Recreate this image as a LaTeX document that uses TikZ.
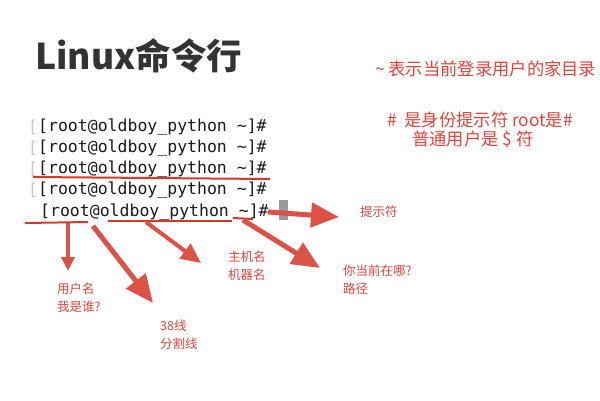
\documentclass[tikz,border=0pt]{standalone}
\usepackage{fontspec}
\setmainfont{Noto Sans CJK SC}
\setmonofont{DejaVu Sans Mono}
\usepackage{xcolor}
\definecolor{cTitle}{HTML}{333333}
\definecolor{cRed}{HTML}{E2433A}
\definecolor{cArrow}{HTML}{DC5247}
\definecolor{cLine}{HTML}{D5382C}
\definecolor{cTerm}{HTML}{1A1A1A}
\definecolor{cFaint}{HTML}{C8C8C8}
\definecolor{cCursor}{HTML}{9A9A9A}
\usepackage{tikz}
\usetikzlibrary{positioning,arrows.meta}
\newcommand{\rootprompt}{[root@oldboy\_python \textasciitilde]\#}
\tikzset{
  node-title/.style={anchor=west,inner sep=0pt,text=cTitle,
    font=\fontsize{35.5}{40}\selectfont\bfseries},
  node-note/.style={anchor=west,inner sep=0pt,text=cRed,align=left,
    font=\fontsize{17.3}{20}\selectfont},
  node-tag/.style={anchor=north west,inner sep=0pt,text=cRed,align=left,
    font=\fontsize{12.5}{18}\selectfont},
  node-term/.style={anchor=west,inner sep=0pt,text=cTerm,
    font=\ttfamily\fontsize{16.5}{20}\selectfont},
  node-cursor/.style={fill=cCursor,inner sep=0pt,minimum width=9pt,minimum height=20pt},
  underline/.style={draw=cLine,line width=2pt},
  arrow-big/.style={-{Triangle[length=28pt,width=24pt]},line width=5pt,draw=cArrow},
  arrow-mid/.style={-{Triangle[length=20pt,width=18pt]},line width=4pt,draw=cArrow},
  arrow-small/.style={-{Triangle[length=14pt,width=13pt]},line width=3.5pt,draw=cArrow},
}

\begin{document}
\begin{tikzpicture}[x=1pt,y=-1pt]
  \useasboundingbox[fill=white] (0,0) rectangle (600,400);
  % 标题与右侧说明
  \node[node-title] (title) at (35,56) {Linux命令行};
  \node[node-note]  (home)  at (375,69) {\textasciitilde\ 表示当前登录用户的家目录};
  \node[node-note]  (hash)  at (387,120) {\#\ \ 是身份提示符 root是\#};
  \node[node-note]  (user)  at (412,139) {普通用户是 \$ 符};
  % 终端提示行
  \node[node-term,text=cFaint] (g1) at (28,127) {[};
  \node[node-term,text=cFaint] (g2) at (28,148) {[};
  \node[node-term,text=cFaint] (g3) at (28,169) {[};
  \node[node-term,text=cFaint] (g4) at (28,190) {[};
  \node[node-term] (l1) at (38,127) {\rootprompt};
  \node[node-term] (l2) at (38,148) {\rootprompt};
  \node[node-term] (l3) at (38,169) {\rootprompt};
  \node[node-term] (l4) at (38,190) {\rootprompt};
  \node[node-term] (l5) at (40,212) {\rootprompt};
  \node[node-cursor] (cursor) at (283,210) {};
  % 下划线
  \coordinate (u3a) at (33,177);  \coordinate (u3b) at (270,179);
  \coordinate (u5a) at (25,223);  \coordinate (u5b) at (88,222);
  \coordinate (u6a) at (108,221); \coordinate (u6b) at (232,221);
  \coordinate (u7a) at (233,218); \coordinate (u7b) at (253,219);
  \draw[underline] (u3a) -- (u3b);
  \draw[underline] (u5a) -- (u5b);
  \draw[underline] (u6a) -- (u6b);
  \draw[underline] (u7a) -- (u7b);
  % 标注
  \node[node-tag] (prompt) at (360,206) {提示符};
  \node[node-tag] (host)   at (228,251) {主机名\\机器名};
  \node[node-tag] (who)    at (57,283)  {用户名\\我是谁?};
  \node[node-tag] (sep)    at (160,320) {38线\\分割线};
  \node[node-tag] (where)  at (343,265) {你当前在哪?\\路径};
  % 箭头
  \coordinate (t-who)    at (68,271);
  \coordinate (t-sep)    at (153,303);
  \coordinate (t-host)   at (201,263);
  \coordinate (t-where)  at (320,268);
  \coordinate (t-prompt) at (339,217);
  \coordinate (s-who)    at (68,223);
  \coordinate (s-sep)    at (93,226);
  \coordinate (s-host)   at (146,222);
  \coordinate (s-where)  at (243,220);
  \coordinate (s-prompt) at (268,212);
  \draw[arrow-small] (s-who)    -- (t-who);
  \draw[arrow-big]   (s-sep)    -- (t-sep);
  \draw[arrow-mid]   (s-host)   -- (t-host);
  \draw[arrow-big]   (s-where)  -- (t-where);
  \draw[arrow-big]   (s-prompt) -- (t-prompt);
\end{tikzpicture}
\end{document}
